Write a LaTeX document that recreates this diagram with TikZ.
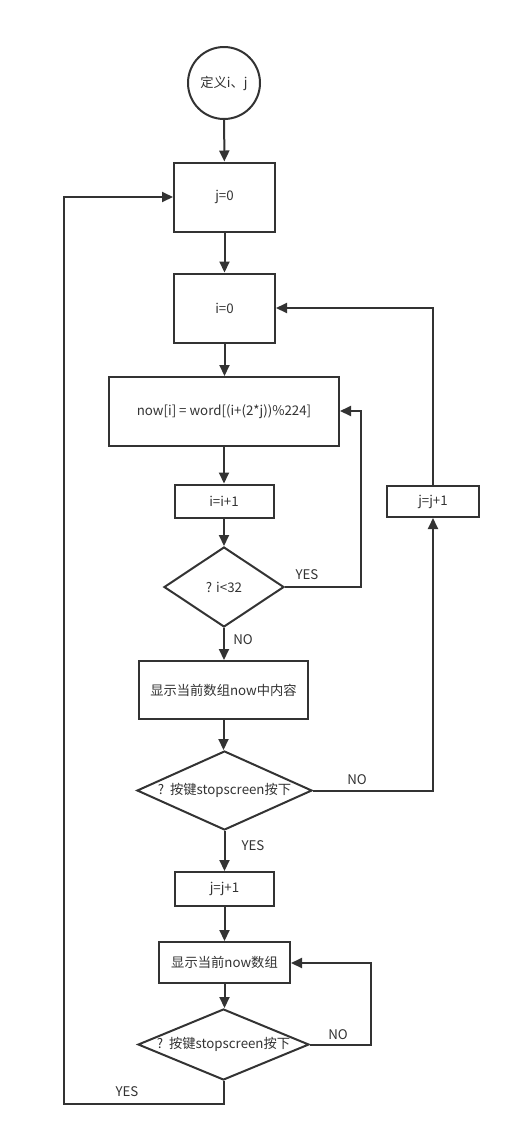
\documentclass[tikz,border=0pt]{standalone}
\usepackage{fontspec}
\setmainfont{Noto Sans CJK SC}
\usetikzlibrary{shapes.geometric,arrows.meta}
\definecolor{ln}{HTML}{333333}
\tikzset{
  base/.style={draw=ln, line width=2pt, inner sep=0pt, font=\fontsize{13.3}{15}\selectfont, text=ln},
  boxn/.style={base, rectangle},
  dia/.style={base, diamond},
  circ/.style={base, circle},
  conn/.style={draw=ln, line width=2pt, -{Triangle[length=11pt,width=10pt]}},
  lab/.style={font=\fontsize{13.3}{15}\selectfont, text=ln, inner sep=0pt}
}
\begin{document}
\begin{tikzpicture}[x=1pt,y=-1pt]
\useasboundingbox (0,0) rectangle (511,1144);
\node[circ, minimum size=72pt] (start) at (224,83) {定义i、j};
\node[boxn, minimum width=101pt, minimum height=69pt] (j0) at (224.5,197) {j=0};
\node[boxn, minimum width=101pt, minimum height=69pt] (i0) at (224.5,308) {i=0};
\node[boxn, minimum width=230pt, minimum height=69pt] (now) at (224,411.5) {now[i] = word[(i+(2*j))\%224]};
\node[boxn, minimum width=99pt, minimum height=33pt] (inc) at (224,501) {i=i+1};
\node[dia, minimum width=120pt, minimum height=80pt, label={[lab]center:? i<32}] (d1) at (224,587) {};
\node[boxn, minimum width=169pt, minimum height=58pt] (show1) at (223.5,690) {显示当前数组now中内容};
\node[dia, minimum width=175pt, minimum height=79pt, label={[lab]center:?\ \ 按键stopscreen按下}] (d2) at (224.5,790.5) {};
\node[boxn, minimum width=92pt, minimum height=31pt] (jj) at (433,501.5) {j=j+1};
\node[boxn, minimum width=99pt, minimum height=34pt] (jinc) at (224.5,889) {j=j+1};
\node[boxn, minimum width=131pt, minimum height=41pt] (show2) at (224.5,962.5) {显示当前now数组};
\node[dia, minimum width=171pt, minimum height=71pt, label={[lab]center:?\ \ 按键stopscreen按下}] (d3) at (223.5,1044.5) {};

\coordinate (y1) at (361,587);
\coordinate (y2) at (361,411);
\coordinate (n1) at (433,790.5);
\coordinate (n2) at (433,308);
\coordinate (m1) at (371,1044.5);
\coordinate (m2) at (371,963);
\coordinate (b1) at (223.5,1104);
\coordinate (b2) at (64,1104);
\coordinate (b3) at (64,197);

\draw[conn] (start) -- (j0);
\draw[conn] (j0) -- (i0);
\draw[conn] (i0.south) -- (now.north -| i0.south);
\draw[conn] (now.south) -- (inc.north);
\draw[conn] (inc) -- (d1);
\draw[conn] (d1) -- (show1.north -| d1.south);
\draw[conn] (show1.south) -- (d2.north -| show1.south);
\draw[conn] (d2.south) -- (jinc.north -| d2.south);
\draw[conn] (jinc) -- (show2);
\draw[conn] (show2.south) -- (d3.north -| show2.south);

\draw[conn] (d1.east) -- (y1) -- (y2) -- (now.east |- y2);
\draw[conn] (d2.east) -- (n1) -- (jj.south);
\draw[conn] (jj.north) -- (n2) -- (i0.east |- n2);
\draw[conn] (d3.east) -- (m1) -- (m2) -- (show2.east |- m2);
\draw[conn] (d3.south) -- (b1) -- (b2) -- (b3) -- (j0.west);

\node[lab] (t1) at (307,575) {YES};
\node[lab] (t2) at (243,640) {NO};
\node[lab] (t3) at (357,780) {NO};
\node[lab] (t4) at (253,846) {YES};
\node[lab] (t5) at (338,1035) {NO};
\node[lab] (t6) at (127,1092) {YES};
\end{tikzpicture}
\end{document}
